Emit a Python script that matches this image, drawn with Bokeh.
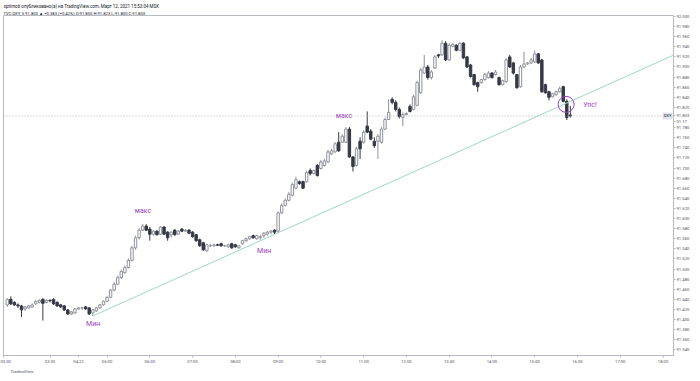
from bokeh.plotting import figure
from bokeh.models import Range1d, FixedTicker, NumeralTickFormatter, Span, Label, ColumnDataSource, Title
from bokeh.core.properties import value
from bokeh.embed import file_html
from bokeh.resources import INLINE

# ---------------- data (TVC:DXY, 5 min) ----------------
first_bar = -28   # bar index of the first visible candle (05:00 bar = 0)

opens = [
    91.429, 91.440, 91.434, 91.429, 91.427, 91.421, 91.423, 91.425, 91.431, 91.434,
    91.440, 91.434, 91.438, 91.440, 91.434, 91.429, 91.427, 91.419, 91.411, 91.413,
    91.421, 91.423, 91.425, 91.423, 91.413, 91.417, 91.423, 91.429,
    91.436, 91.444, 91.458, 91.470, 91.483, 91.493, 91.503, 91.517, 91.542, 91.562,
    91.577, 91.585, 91.579, 91.569, 91.575, 91.569, 91.583, 91.573, 91.568, 91.577,
    91.569, 91.579, 91.575, 91.577, 91.573, 91.568, 91.558, 91.552, 91.536, 91.546,
    91.546, 91.548, 91.550, 91.546, 91.544, 91.550, 91.548, 91.542, 91.550, 91.556,
    91.560, 91.566, 91.560, 91.562, 91.566, 91.569, 91.573, 91.577, 91.575, 91.611,
    91.626, 91.636, 91.646, 91.660, 91.673, 91.673, 91.673, 91.695, 91.689, 91.705,
    91.699, 91.705, 91.712, 91.728, 91.732, 91.751, 91.751, 91.751, 91.777, 91.722,
    91.705, 91.753, 91.751, 91.783, 91.773, 91.753, 91.753, 91.751, 91.777, 91.796,
    91.836, 91.830, 91.816, 91.800, 91.806, 91.822, 91.816, 91.824, 91.849, 91.888,
    91.900, 91.879, 91.898, 91.924, 91.924, 91.947, 91.914, 91.941, 91.943, 91.933,
    91.947, 91.920, 91.904, 91.885, 91.869, 91.869, 91.875, 91.879, 91.888, 91.885,
    91.879, 91.865, 91.871, 91.920, 91.908, 91.885, 91.861, 91.900, 91.906, 91.908,
    91.910, 91.926, 91.914, 91.865, 91.851, 91.841, 91.845, 91.851, 91.861, 91.832,
    91.805,
]
highs = [
    91.442, 91.446, 91.436, 91.432, 91.429, 91.427, 91.429, 91.432, 91.438, 91.440,
    91.442, 91.440, 91.440, 91.442, 91.436, 91.431, 91.429, 91.421, 91.417, 91.423,
    91.425, 91.425, 91.427, 91.425, 91.421, 91.425, 91.431, 91.438,
    91.446, 91.460, 91.474, 91.487, 91.499, 91.507, 91.521, 91.546, 91.566, 91.581,
    91.589, 91.589, 91.583, 91.577, 91.577, 91.585, 91.585, 91.575, 91.575, 91.579,
    91.577, 91.581, 91.579, 91.579, 91.575, 91.569, 91.560, 91.554, 91.550, 91.550,
    91.550, 91.550, 91.552, 91.548, 91.550, 91.552, 91.550, 91.548, 91.558, 91.562,
    91.566, 91.568, 91.568, 91.568, 91.573, 91.575, 91.577, 91.579, 91.614, 91.630,
    91.640, 91.652, 91.671, 91.683, 91.675, 91.675, 91.695, 91.699, 91.697, 91.708,
    91.716, 91.718, 91.736, 91.738, 91.751, 91.771, 91.767, 91.781, 91.781, 91.724,
    91.742, 91.761, 91.775, 91.812, 91.777, 91.761, 91.767, 91.781, 91.800, 91.836,
    91.840, 91.834, 91.820, 91.810, 91.810, 91.826, 91.845, 91.873, 91.898, 91.924,
    91.904, 91.894, 91.924, 91.926, 91.953, 91.951, 91.947, 91.947, 91.945, 91.949,
    91.949, 91.922, 91.906, 91.886, 91.871, 91.877, 91.888, 91.892, 91.890, 91.894,
    91.881, 91.875, 91.918, 91.924, 91.910, 91.886, 91.904, 91.930, 91.910, 91.918,
    91.933, 91.928, 91.916, 91.867, 91.853, 91.849, 91.853, 91.861, 91.863, 91.836,
    91.823,
]
lows = [
    91.425, 91.429, 91.427, 91.423, 91.405, 91.417, 91.421, 91.423, 91.429, 91.432,
    91.398, 91.432, 91.434, 91.429, 91.425, 91.423, 91.417, 91.409, 91.409, 91.411,
    91.419, 91.419, 91.419, 91.409, 91.407, 91.415, 91.421, 91.427,
    91.434, 91.442, 91.456, 91.468, 91.480, 91.491, 91.501, 91.515, 91.538, 91.558,
    91.575, 91.575, 91.556, 91.566, 91.566, 91.568, 91.568, 91.556, 91.562, 91.566,
    91.568, 91.573, 91.573, 91.569, 91.562, 91.554, 91.544, 91.536, 91.534, 91.544,
    91.544, 91.546, 91.544, 91.544, 91.542, 91.540, 91.542, 91.540, 91.548, 91.554,
    91.558, 91.560, 91.558, 91.558, 91.562, 91.566, 91.569, 91.569, 91.571, 91.609,
    91.624, 91.634, 91.644, 91.658, 91.667, 91.658, 91.671, 91.685, 91.687, 91.683,
    91.697, 91.703, 91.710, 91.726, 91.730, 91.732, 91.750, 91.750, 91.720, 91.693,
    91.703, 91.718, 91.748, 91.769, 91.755, 91.740, 91.718, 91.748, 91.775, 91.795,
    91.826, 91.812, 91.798, 91.783, 91.804, 91.810, 91.814, 91.822, 91.847, 91.886,
    91.875, 91.875, 91.896, 91.918, 91.922, 91.912, 91.912, 91.939, 91.931, 91.931,
    91.916, 91.898, 91.879, 91.863, 91.851, 91.867, 91.873, 91.877, 91.877, 91.883,
    91.863, 91.863, 91.869, 91.898, 91.885, 91.857, 91.859, 91.898, 91.904, 91.906,
    91.908, 91.906, 91.849, 91.847, 91.834, 91.840, 91.843, 91.849, 91.830, 91.795,
    91.800,
]
closes = [
    91.440, 91.431, 91.429, 91.427, 91.419, 91.425, 91.427, 91.429, 91.436, 91.438,
    91.432, 91.438, 91.437, 91.431, 91.427, 91.425, 91.419, 91.411, 91.415, 91.421,
    91.423, 91.423, 91.421, 91.411, 91.419, 91.423, 91.429, 91.436,
    91.444, 91.458, 91.470, 91.483, 91.495, 91.503, 91.517, 91.542, 91.562, 91.577,
    91.585, 91.577, 91.569, 91.575, 91.568, 91.583, 91.569, 91.562, 91.573, 91.568,
    91.575, 91.575, 91.577, 91.571, 91.564, 91.556, 91.546, 91.538, 91.548, 91.546,
    91.548, 91.547, 91.546, 91.546, 91.548, 91.542, 91.544, 91.546, 91.556, 91.560,
    91.564, 91.562, 91.566, 91.564, 91.571, 91.573, 91.575, 91.573, 91.611, 91.626,
    91.636, 91.648, 91.667, 91.677, 91.669, 91.660, 91.691, 91.689, 91.695, 91.685,
    91.712, 91.714, 91.732, 91.734, 91.748, 91.734, 91.763, 91.777, 91.722, 91.703,
    91.738, 91.738, 91.771, 91.771, 91.757, 91.744, 91.763, 91.777, 91.796, 91.810,
    91.830, 91.816, 91.802, 91.806, 91.808, 91.812, 91.841, 91.869, 91.894, 91.900,
    91.879, 91.890, 91.920, 91.922, 91.947, 91.914, 91.943, 91.945, 91.933, 91.947,
    91.918, 91.900, 91.881, 91.865, 91.861, 91.875, 91.885, 91.888, 91.879, 91.890,
    91.865, 91.873, 91.914, 91.900, 91.888, 91.859, 91.900, 91.906, 91.908, 91.914,
    91.926, 91.908, 91.851, 91.849, 91.840, 91.847, 91.851, 91.857, 91.832, 91.800,
    91.803,
]

time_tick_bars = [-29, -16, -8, 0, 12, 24, 36, 48, 60, 72, 84, 96, 108, 120, 132, 144, 156]
time_tick_labels = ["03:00", "03:30", "04:22", "05:00", "06:00", "07:00", "08:00", "09:00", "10:00",
                    "11:00", "12:00", "13:00", "14:00", "15:00", "16:00", "17:00", "18:00"]
price_ticks = [round(91.34 + 0.02 * k, 3) for k in range(34) if k != 23]   # 91.800 hidden by price tag

last_price = 91.803
countdown = "01:17"
countdown_tick = 91.7925
trend_bars = [-4, 161]
trend_prices = [91.407, 91.930]

note_texts = ["Мин", "макс", "Мин", "макс", "Упс!"]
note_bars = [-3.9, 10.1, 44.1, 66.5, 135.5]
note_prices = [91.391, 91.615, 91.536, 91.803, 91.824]

header_1 = "optimob опубликовано(а) на TradingView.com, Март 12, 2021 15:53:04 MSK"
header_2 = "TVC:DXY, 5  91.803 ▲ +0.383 (+0.42%)  O:91.805 H:91.823 L:91.800 C:91.803"

# ---------------- layout ----------------
X0, X1 = (3 - 107) / 3.58, (676 - 107) / 3.58      # bars shown in the frame
Y0, Y1 = 92 - 343 / 511.0, 92 + 1 / 511.0          # prices shown in the frame


def bar_at(px):
    return (px - 107) / 3.58


FONT = "Roboto"
UP_LINE = "#8f929b"
DOWN = "#363a45"
PURPLE = "#9c3fc0"
GREY = "#b8bbc2"
TXT = "#50535e"

p = figure(width=692, height=373, output_backend="svg", toolbar_location=None,
           x_range=Range1d(X0, X1), y_range=Range1d(Y0, Y1),
           y_axis_location="right",
           min_border_left=3, min_border_right=16, min_border_top=15, min_border_bottom=14)
p.grid.visible = False
p.outline_line_color = GREY
p.background_fill_color = "white"
p.border_fill_color = "white"

for ax in (p.xaxis[0], p.yaxis[0]):
    ax.axis_line_color = GREY
    ax.major_tick_line_color = GREY
    ax.minor_tick_line_color = None
    ax.major_tick_out = 2
    ax.major_tick_in = 0
    ax.major_label_standoff = 1
    ax.major_label_text_font = FONT
    ax.major_label_text_font_size = "4.2px"
    ax.major_label_text_color = TXT

p.yaxis.ticker = FixedTicker(ticks=price_ticks + [last_price, countdown_tick])
p.yaxis.formatter = NumeralTickFormatter(format="0.000")
p.yaxis.major_label_overrides = {last_price: "91.803", countdown_tick: countdown}
p.xaxis.ticker = FixedTicker(ticks=time_tick_bars)
p.xaxis.major_label_overrides = {b: t for b, t in zip(time_tick_bars, time_tick_labels)}

# header lines and footer logo
p.add_layout(Title(text=header_2, align="left", text_font=FONT, text_font_size="4.2px",
                   text_font_style="normal", text_color="#131722", standoff=0), "above")
p.add_layout(Title(text=header_1, align="left", text_font=FONT, text_font_size="4.5px",
                   text_font_style="normal", text_color="#131722", standoff=0), "above")
p.add_layout(Title(text="TradingView", align="left", text_font=FONT, text_font_size="4.2px",
                   text_font_style="normal", text_color=TXT, standoff=0, offset=7), "below")

# last price dotted line
p.add_layout(Span(location=last_price, dimension="width", line_color="#b2b5be",
                  line_dash="1 2", line_width=1))

# candles
up = dict(x=[], top=[], bottom=[], high=[], low=[])
dn = dict(x=[], top=[], bottom=[], high=[], low=[])
for k, (o, h, l, c) in enumerate(zip(opens, highs, lows, closes)):
    d = up if c >= o else dn
    d["x"].append(first_bar + k)
    d["top"].append(max(o, c))
    d["bottom"].append(min(o, c))
    d["high"].append(h)
    d["low"].append(l)
src_up = ColumnDataSource(up)
src_dn = ColumnDataSource(dn)

p.segment(x0="x", y0="high", x1="x", y1="low", source=src_up, line_color=UP_LINE, line_width=1)
p.segment(x0="x", y0="high", x1="x", y1="low", source=src_dn, line_color=DOWN, line_width=1)
p.vbar(x="x", top="top", bottom="bottom", width=0.68, source=src_up,
       fill_color="white", line_color=UP_LINE, line_width=1)
p.vbar(x="x", top="top", bottom="bottom", width=0.68, source=src_dn,
       fill_color=DOWN, line_color=DOWN, line_width=1)

# trend line
p.line(trend_bars, trend_prices, line_color="#9fd8c6", line_width=1)

# circle around the break
p.scatter([128.8], [91.826], marker="circle", size=16, fill_alpha=0,
          line_color=PURPLE, line_width=1)

# notes
p.text(x=note_bars, y=note_prices, text=note_texts, text_font=value(FONT),
       text_font_size=value("7px"), text_color=PURPLE, text_align="center",
       text_baseline="middle")

# symbol tag
p.add_layout(Label(x=bar_at(675), y=last_price, text="DXY", text_font=FONT,
                   text_font_size="4.2px", text_color="#131722", text_baseline="middle",
                   text_align="right", background_fill_color="#e0e3eb", padding=1))

open("out.html", "w").write(file_html(p, INLINE))
